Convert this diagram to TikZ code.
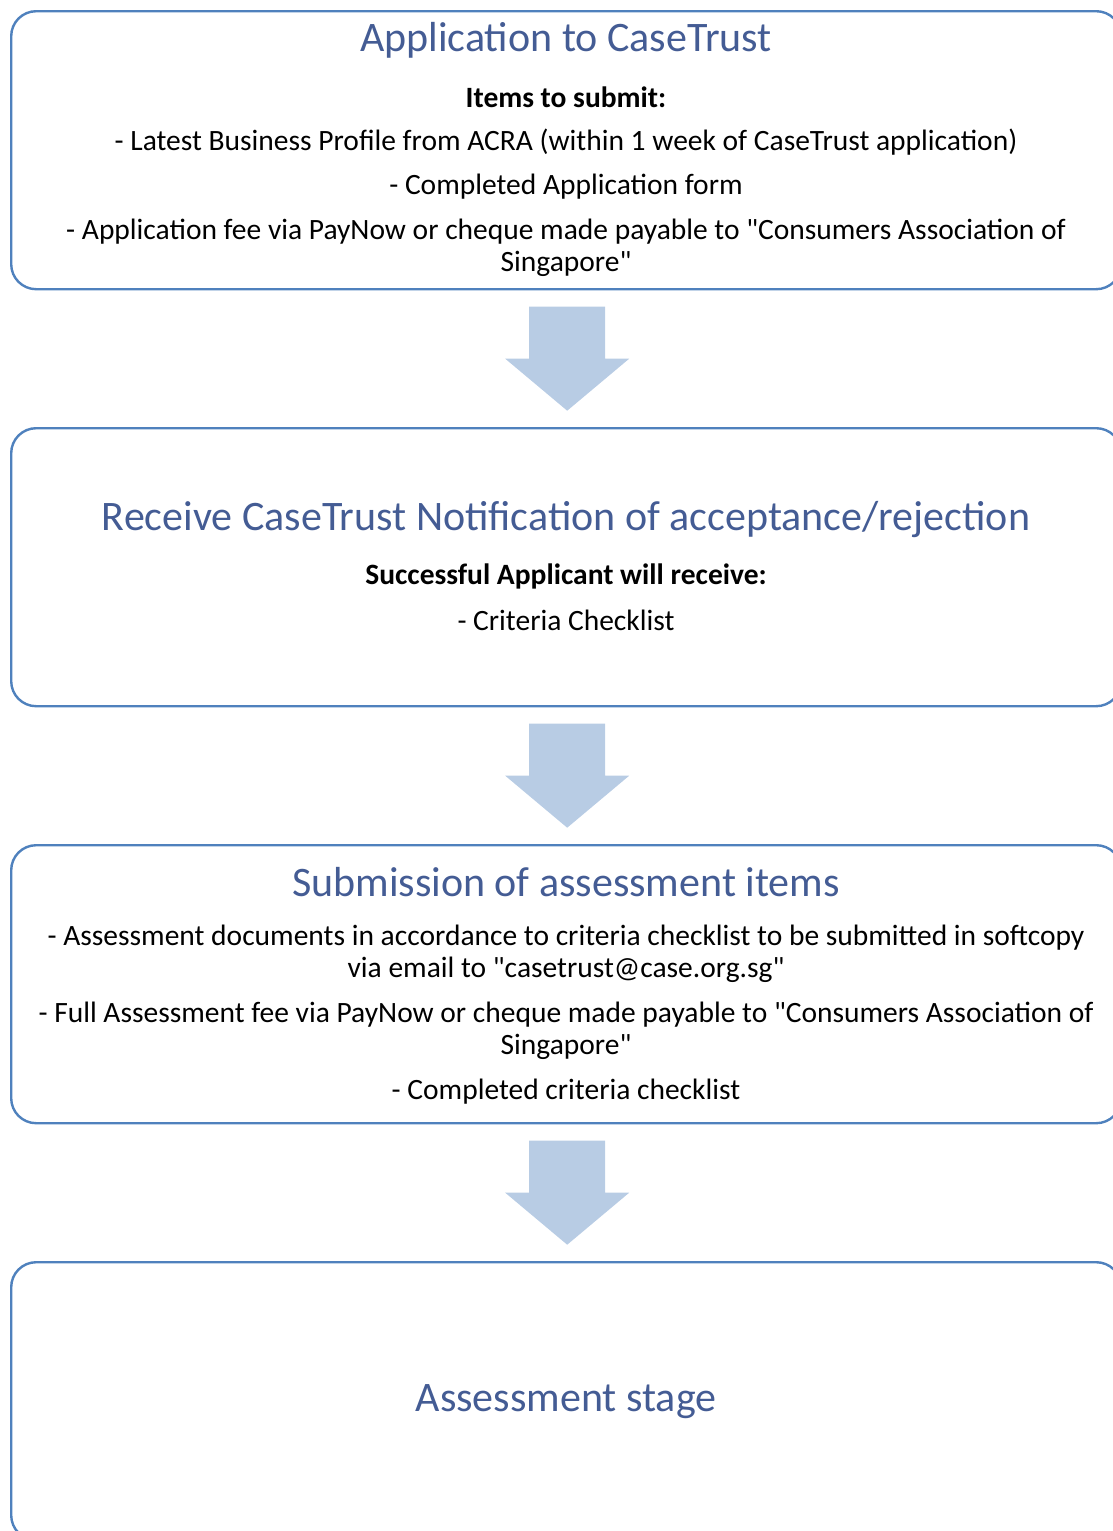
\documentclass[tikz,border=0pt]{standalone}
\usepackage{fontspec}
\setmainfont{Carlito}[Ligatures=TeXOff]
\usetikzlibrary{calc}
\definecolor{boxline}{RGB}{79,129,189}
\definecolor{arrowfill}{RGB}{184,204,228}
\definecolor{titleblue}{RGB}{68,92,148}
\newcommand{\qmark}{\symbol{34}}
\tikzset{
  stage/.style={draw=boxline, line width=2.4pt, rounded corners=25pt,
    minimum width=1110pt, minimum height=278pt, anchor=north west},
  title/.style={text=titleblue, font=\fontsize{42}{48}\selectfont},
  body/.style={align=center, font=\fontsize{29.5}{32}\selectfont}
}
\begin{document}
\begin{tikzpicture}[x=1pt, y=1pt]
  \useasboundingbox (0,0) rectangle (1113,-1531);
  \clip (0,0) rectangle (1113,-1531);
  % the four stages
  \foreach \number in {1,...,4}{
    \node[stage] (B-\number) at (10,{-10-417*(\number-1)}) {};
  }
  % block arrows between the stages
  \foreach \number in {1,...,3}{
    \pgfmathtruncatemacro{\nextnum}{\number+1}
    \coordinate (A-\number) at ($(B-\number.south)!0.5!(B-\nextnum.north)+(1,0)$);
    \fill[arrowfill] (A-\number) ++(-38,52) -- ++(76,0) -- ++(0,-52) -- ++(24,0)
      -- ++(-62,-52) -- ++(-62,52) -- ++(24,0) -- cycle;
  }
  % stage 1
  \node[title] (T-1) at (566,-40) {Application to CaseTrust};
  \node[body] (I-1) at (566,-97) {\textbf{Items to submit:}};
  \node[body] (L-1) at (566,-142) {- Latest Business Profile from ACRA (within 1 week of CaseTrust application)};
  \node[body] (L-2) at (566,-187) {- Completed Application form};
  \node[body] (L-3) at (566,-248) {- Application fee via PayNow or cheque made payable to \qmark Consumers Association of\\Singapore\qmark};
  % stage 2
  \node[title] (T-2) at (566,-520) {Receive CaseTrust Notification of acceptance/rejection};
  \node[body] (I-2) at (566,-576) {\textbf{Successful Applicant will receive:}};
  \node[body] (L-4) at (566,-620) {- Criteria Checklist};
  % stage 3
  \node[title] (T-3) at (566,-882) {Submission of assessment items};
  \node[body] (L-5) at (566,-954) {- Assessment documents in accordance to criteria checklist to be submitted in softcopy\\via email to \qmark casetrust@case.org.sg\qmark};
  \node[body] (L-6) at (566,-1031) {- Full Assessment fee via PayNow or cheque made payable to \qmark Consumers Association of\\Singapore\qmark};
  \node[body] (L-7) at (566,-1092) {- Completed criteria checklist};
  % stage 4
  \node[title] (T-4) at (566,-1402) {Assessment stage};
\end{tikzpicture}
\end{document}
